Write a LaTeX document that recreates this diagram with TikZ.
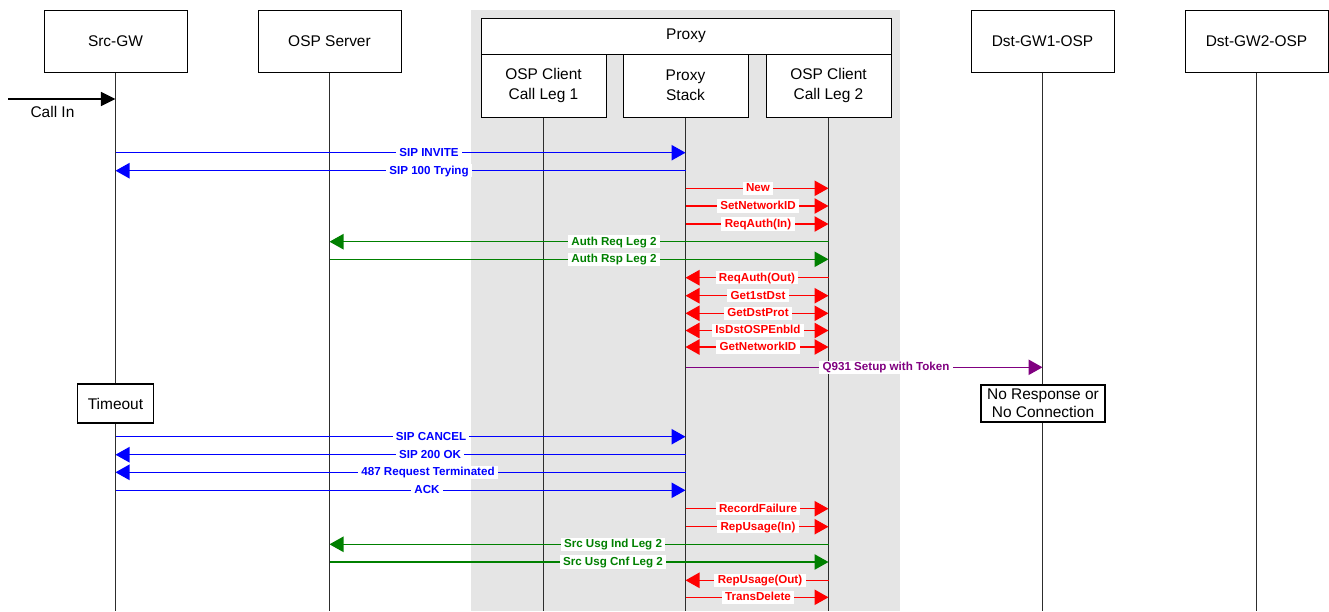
\documentclass[tikz,border=0pt]{standalone}
\usepackage{fontspec}
\setmainfont{Liberation Sans}
\usetikzlibrary{arrows.meta}
\definecolor{sipblue}{RGB}{0,0,255}
\definecolor{apired}{RGB}{255,0,0}
\definecolor{ospgreen}{RGB}{0,128,0}
\definecolor{qpurple}{RGB}{128,0,128}
\definecolor{proxygray}{RGB}{229,229,229}
\definecolor{lifegray}{RGB}{45,45,45}

% one message: y, from, to, colour, arrow spec, label, label x
\newcommand\msg[7]{%
  \draw[msgline,#4,#5] (#2 |- 0,#1) -- (#3 |- 0,#1)
    node[lbl,text=#4] at (#7,#1) {#6};}

\begin{document}
\begin{tikzpicture}[x=0.75pt,y=-0.75pt,
  >={Triangle[length=10.5pt,width=11.5pt]},
  entity/.style={draw=black,line width=0.75pt,fill=white,inner sep=0pt,
    minimum width=107.25pt,minimum height=46.5pt,align=center,
    font=\fontsize{11.6}{15}\selectfont},
  part/.style={entity,minimum width=93.75pt,minimum height=47.25pt},
  note/.style={draw=black,line width=1.1pt,fill=white,inner sep=0pt,align=center,
    font=\fontsize{11.6}{13.5}\selectfont},
  lifeline/.style={draw=lifegray,line width=0.9pt},
  msgline/.style={line width=1.1pt},
  lbl/.style={fill=white,inner xsep=2.5pt,inner ysep=0.8pt,
    text height=6.6pt,text depth=1.6pt,
    font=\bfseries\fontsize{8.7}{10}\selectfont}]

\useasboundingbox (0,0) rectangle (1329,611);

% proxy region
\fill[proxygray] (471,10) rectangle (900,611);

% participants
\node[entity] (gw)   at (115.5,41)  {Src-GW};
\node[entity] (osp)  at (329.5,41)  {OSP Server};
\node[entity] (dst1) at (1042.5,41) {Dst-GW1-OSP};
\node[entity] (dst2) at (1256.5,41) {Dst-GW2-OSP};
\node[entity,minimum width=307.5pt,minimum height=27pt] (proxy) at (686,36) {Proxy};
\node[part] (leg1)  at (543.5,85.5) {OSP Client\\Call Leg 1};
\node[part] (stack) at (685.5,85.5) {Proxy\\Stack};
\node[part] (leg2)  at (828.5,85.5) {OSP Client\\Call Leg 2};

% lifelines
\foreach \p in {gw,osp,dst1,dst2,leg1,stack,leg2}
  \draw[lifeline] (\p.south) -- (\p.south |- 0,611);

% incoming call
\coordinate (callin) at (8,99);
\draw[line width=1.2pt,-{Triangle[length=11pt,width=10.5pt]}] (callin) -- (gw |- callin);
\node[font=\fontsize{11.6}{14}\selectfont] (callinlbl) at (52.5,112) {Call In};

% call setup
\msg{152.7}{gw}{stack}{sipblue}{->}{SIP INVITE}{429}
\msg{170.7}{stack}{gw}{sipblue}{->}{SIP 100 Trying}{429}
\msg{188.3}{stack}{leg2}{apired}{->}{New}{758}
\msg{206}{stack}{leg2}{apired}{->}{SetNetworkID}{758}
\msg{224}{stack}{leg2}{apired}{->}{ReqAuth(In)}{758}
\msg{241.7}{leg2}{osp}{ospgreen}{->}{Auth Req Leg 2}{614}
\msg{259.3}{osp}{leg2}{ospgreen}{->}{Auth Rsp Leg 2}{614}
\msg{277.7}{leg2}{stack}{apired}{->}{ReqAuth(Out)}{757}
\msg{295.7}{stack}{leg2}{apired}{<->}{Get1stDst}{758}
\msg{313.3}{stack}{leg2}{apired}{<->}{GetDstProt}{758}
\msg{330.5}{stack}{leg2}{apired}{<->}{IsDstOSPEnbld}{758}
\msg{347}{stack}{leg2}{apired}{<->}{GetNetworkID}{758}
\msg{367.3}{stack}{dst1}{qpurple}{->}{Q931 Setup with Token}{886}

% failure notes
\node[note,minimum width=57pt,minimum height=29.25pt] (timeout) at (115.5,403.5) {Timeout};
\node[note,minimum width=93pt,minimum height=27.75pt] (noresp) at (1043,403.5) {No Response or\\No Connection};

% cancellation and usage reporting
\msg{436.7}{gw}{stack}{sipblue}{->}{SIP CANCEL}{431}
\msg{454.7}{stack}{gw}{sipblue}{->}{SIP 200 OK}{430}
\msg{472.3}{stack}{gw}{sipblue}{->}{487 Request Terminated}{428}
\msg{490.3}{gw}{stack}{sipblue}{->}{ACK}{427}
\msg{508.7}{stack}{leg2}{apired}{->}{RecordFailure}{758}
\msg{526.7}{stack}{leg2}{apired}{->}{RepUsage(In)}{758}
\msg{544.3}{leg2}{osp}{ospgreen}{->}{Src Usg Ind Leg 2}{613}
\msg{562}{osp}{leg2}{ospgreen}{->}{Src Usg Cnf Leg 2}{613}
\msg{580.3}{leg2}{stack}{apired}{->}{RepUsage(Out)}{760}
\msg{597.3}{stack}{leg2}{apired}{->}{TransDelete}{758}

\end{tikzpicture}
\end{document}
